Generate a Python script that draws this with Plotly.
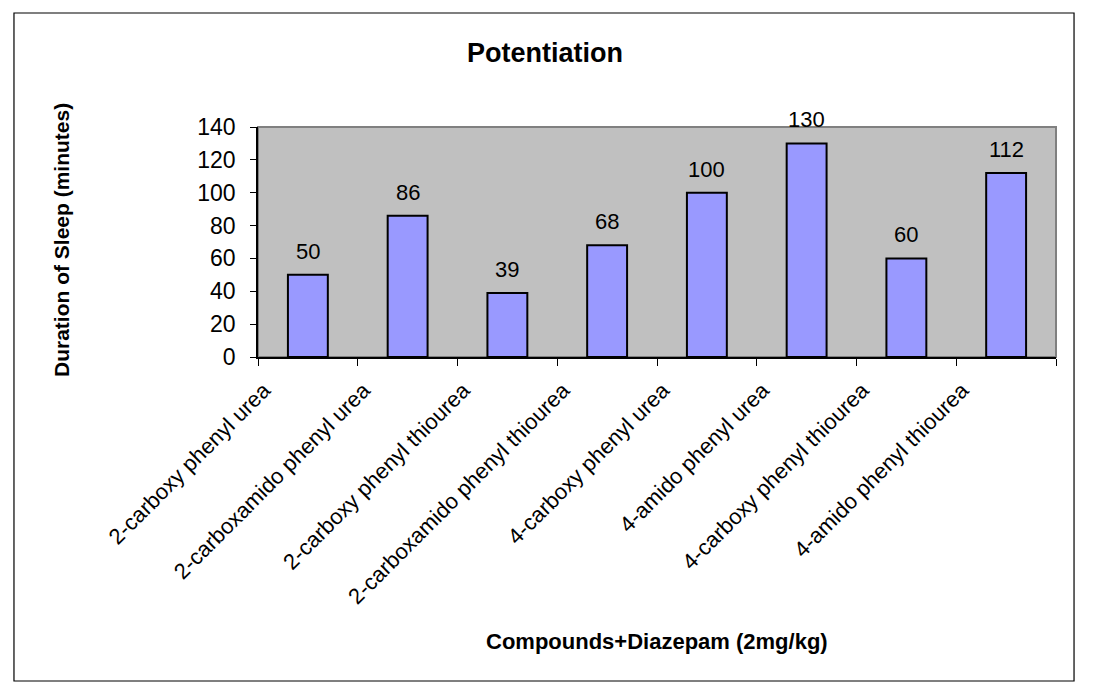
import plotly.graph_objects as go

# Data
compounds = [
    "2-carboxy phenyl urea",
    "2-carboxamido phenyl urea",
    "2-carboxy phenyl thiourea",
    "2-carboxamido phenyl thiourea",
    "4-carboxy phenyl urea",
    "4-amido phenyl urea",
    "4-carboxy phenyl thiourea",
    "4-amido phenyl thiourea",
]
sleep_minutes = [50, 86, 39, 68, 100, 130, 60, 112]
y_ticks = [0, 20, 40, 60, 80, 100, 120, 140]

FONT = "Liberation Sans, Arial, sans-serif"

fig = go.Figure()
fig.add_trace(go.Bar(
    x=compounds,
    y=sleep_minutes,
    marker=dict(color="#9999FF", line=dict(color="black", width=2)),
    showlegend=False,
    hoverinfo="x+y",
))

# value labels above the bars
for name, val in zip(compounds, sleep_minutes):
    fig.add_annotation(
        x=name, y=val, text=str(val), showarrow=False,
        yanchor="bottom", yshift=9,
        font=dict(family=FONT, size=22, color="black"),
    )

# axis titles as annotations so they sit where the original has them
fig.add_annotation(
    text="<b>Compounds+Diazepam (2mg/kg)</b>",
    xref="paper", yref="paper", x=0.5, y=-1.239,
    xanchor="center", yanchor="middle", showarrow=False,
    font=dict(family=FONT, size=22, color="black"),
)
fig.add_annotation(
    text="<b>Duration of Sleep (minutes)</b>",
    xref="paper", yref="paper", x=-0.2456, y=0.5087,
    xanchor="center", yanchor="middle", showarrow=False, textangle=-90,
    font=dict(family=FONT, size=21, color="black"),
)

# outer chart border
fig.add_shape(
    type="rect", xref="paper", yref="paper",
    x0=-0.3058, x1=1.0226, y0=-1.4087, y1=1.4957,
    line=dict(color="black", width=1.2), fillcolor="rgba(0,0,0,0)",
    layer="below",
)

# page body has an 8px margin, so the figure is a bit smaller than the window
fig.update_layout(
    width=1085, height=683,
    margin=dict(l=250, r=37, t=119, b=334),
    paper_bgcolor="white",
    plot_bgcolor="#C0C0C0",
    bargap=0.6,
    font=dict(family=FONT, color="black"),
    title=dict(
        text="<b>Potentiation</b>",
        x=0.495, xref="container", y=0.9355, yref="container",
        xanchor="center", yanchor="middle",
        font=dict(family=FONT, size=27, color="black"),
    ),
)

fig.update_xaxes(
    tickangle=-45,
    tickfont=dict(family=FONT, size=22, color="black"),
    ticklabelshift=-44,
    ticklabelstandoff=10,
    showgrid=False,
    showline=True, linecolor="black", linewidth=1.5,
    ticks="outside", ticklen=7, tickcolor="black",
    tickson="boundaries",
)

fig.update_yaxes(
    range=[0, 140],
    tickvals=y_ticks,
    tickfont=dict(family=FONT, size=23, color="black"),
    ticklabelstandoff=10,
    showgrid=False,
    zeroline=False,
    showline=True, linecolor="black", linewidth=1.5,
    ticks="outside", ticklen=6, tickcolor="black",
)

# grey top/right frame of plot area
fig.add_shape(
    type="rect", xref="paper", yref="paper",
    x0=0, x1=1, y0=0, y1=1,
    line=dict(color="#808080", width=2), fillcolor="rgba(0,0,0,0)",
    layer="below",
)

fig.write_html("out.html")
